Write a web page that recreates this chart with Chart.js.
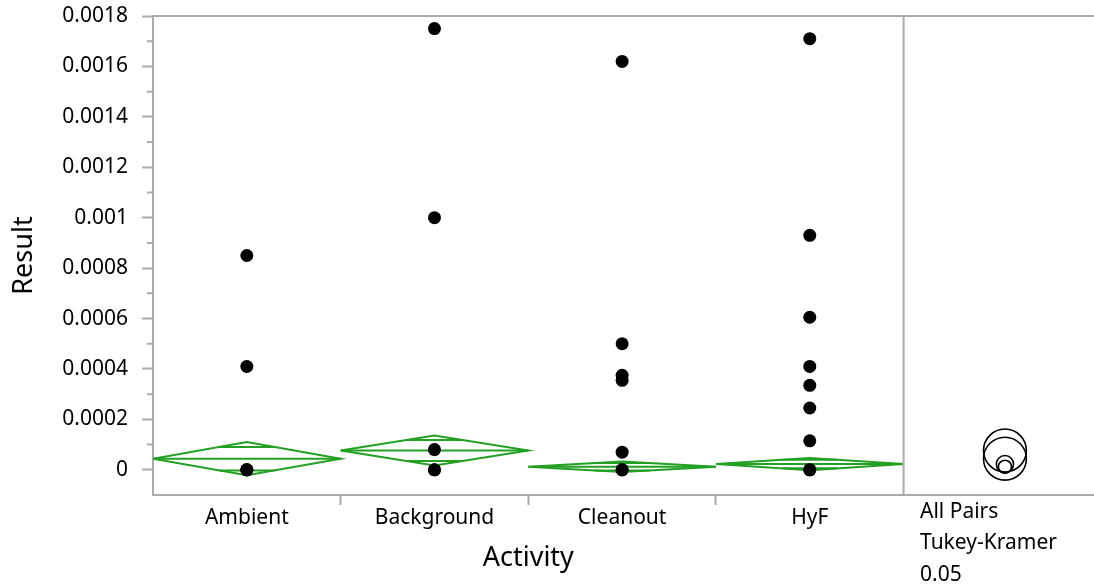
<!DOCTYPE html>
<html>
<head>
<meta charset="utf-8">
<script src="https://cdn.jsdelivr.net/npm/chart.js@4.4.0/dist/chart.umd.min.js"></script>
<style>
html, body { margin: 0; padding: 0; background: #fff; }
#wrap { width: 1094px; height: 587px; }
</style>
</head>
<body>
<div id="wrap"><canvas id="oneway" width="1094" height="587"></canvas></div>
<script>
// groups on the x axis
const activities = ['Ambient', 'Background', 'Cleanout', 'HyF'];

const ambientVals    = [0.00085, 0.00041, 0, 0, 0];
const backgroundVals = [0.00175, 0.001, 0.00008, 0, 0];
const cleanoutVals   = [0.00162, 0.0005, 0.000375, 0.000355, 0.00007, 0, 0];
const hyfVals        = [0.00171, 0.00093, 0.000605, 0.00041, 0.000335, 0.000245, 0.000115, 0, 0];

// means diamonds: group mean and 95% CI half width
const groupMeans = [0.000044, 0.0000765, 0.000012, 0.0000226];
const ciHalf     = [0.000066, 0.000059, 0.000021, 0.000024];

// comparison circle radii (Result units)
const circleRadius = [0.000085, 0.000085, 0.000026, 0.000034];

// y axis tick labels
const yTickValues = [0, 0.0002, 0.0004, 0.0006, 0.0008, 0.001, 0.0012, 0.0014, 0.0016, 0.0018];
const yTickLabels = ['0', '0.0002', '0.0004', '0.0006', '0.0008', '0.001', '0.0012', '0.0014', '0.0016', '0.0018'];

const compareLabels = ['All Pairs', 'Tukey-Kramer', '0.05'];

const GRAY = '#ababab';
const GREEN = '#23a023';
const FONT = "'Noto Sans', sans-serif";
const circleX = 4.54;

const allVals = [ambientVals, backgroundVals, cleanoutVals, hyfVals];

// major + minor y ticks
let yTickList = [];
yTickValues.forEach((v, i) => {
    yTickList.push(v);
    if (i < yTickValues.length - 1) yTickList.push((v + yTickValues[i + 1]) / 2);
});

let datasets = [];

// data points on top
datasets.push({
    label: 'points',
    order: 0,
    data: allVals.flatMap((vals, i) => vals.map(v => ({x: i + 0.5, y: v}))),
    pointRadius: 6.5,
    pointBackgroundColor: '#000',
    pointBorderWidth: 0,
    showLine: false
});

// comparison circles
datasets.push({
    label: 'circles',
    order: 1,
    data: groupMeans.map(m => ({x: circleX, y: m})),
    pointRadius: ctx => {
        let ys = ctx.chart.scales.y;
        return Math.abs(ys.getPixelForValue(0) - ys.getPixelForValue(circleRadius[ctx.dataIndex]));
    },
    pointBackgroundColor: 'rgba(0,0,0,0)',
    pointBorderColor: '#000',
    pointBorderWidth: 1.6,
    showLine: false
});

// means diamonds, mean lines, overlap marks
const k = 1 / Math.SQRT2;
groupMeans.forEach((m, i) => {
    let h = ciHalf[i];
    let line = pts => ({
        order: 2,
        data: pts,
        showLine: true,
        borderColor: GREEN,
        borderWidth: 2,
        pointRadius: 0,
        fill: false
    });
    datasets.push(line([
        {x: i, y: m}, {x: i + 0.5, y: m + h}, {x: i + 1, y: m}, {x: i + 0.5, y: m - h}, {x: i, y: m}
    ]));
    datasets.push(line([{x: i, y: m}, {x: i + 1, y: m}]));
    let dx = 0.5 * (1 - k);
    datasets.push(line([{x: i + 0.5 - dx, y: m + h * k}, {x: i + 0.5 + dx, y: m + h * k}]));
    datasets.push(line([{x: i + 0.5 - dx, y: m - h * k}, {x: i + 0.5 + dx, y: m - h * k}]));
});

// frame, minor ticks, titles and side text
const decor = {
    id: 'decor',
    afterDraw(chart) {
        let c = chart.ctx, a = chart.chartArea;
        let xs = chart.scales.x, ys = chart.scales.y;
        c.save();
        c.strokeStyle = GRAY;
        c.lineWidth = 2;
        c.beginPath();
        c.moveTo(a.left, a.top);
        c.lineTo(chart.width, a.top);
        c.moveTo(a.right, a.bottom);
        c.lineTo(chart.width, a.bottom);
        let sx = xs.getPixelForValue(activities.length);
        c.moveTo(sx, a.top);
        c.lineTo(sx, a.bottom);
        // minor y ticks
        yTickList.forEach((v, i) => {
            if (i % 2 === 1) {
                let py = ys.getPixelForValue(v);
                c.moveTo(a.left - 6, py);
                c.lineTo(a.left, py);
            }
        });
        c.stroke();

        c.fillStyle = '#000';
        c.textAlign = 'center';
        c.textBaseline = 'middle';
        c.font = '27px ' + FONT;
        c.fillText('Activity', (a.left + sx) / 2, 558);
        c.save();
        c.translate(24, (a.top + a.bottom) / 2);
        c.rotate(-Math.PI / 2);
        c.fillText('Result', 0, 0);
        c.restore();

        c.textAlign = 'left';
        c.font = '21px ' + FONT;
        compareLabels.forEach((t, i) => {
            c.fillText(t, 920, 512 + i * 31.5);
        });
        c.restore();
    }
};

const xTickVals = [0.5, 1, 1.5, 2, 2.5, 3, 3.5];

new Chart(document.getElementById('oneway'), {
    type: 'scatter',
    data: {datasets: datasets},
    options: {
        responsive: false,
        animation: false,
        layout: {padding: {left: 0, top: 16, right: 4, bottom: 0}},
        plugins: {legend: {display: false}, tooltip: {enabled: false}},
        scales: {
            x: {
                type: 'linear',
                min: 0,
                max: 4.98,
                afterBuildTicks: s => { s.ticks = xTickVals.map(v => ({value: v})); },
                afterFit: s => { s.height = 92; s.paddingLeft = 0; s.paddingRight = 0; },
                ticks: {
                    autoSkip: false,
                    maxRotation: 0,
                    padding: 0,
                    color: '#000',
                    font: {family: FONT, size: 21},
                    callback: (v, i) => i % 2 === 0 ? activities[i / 2] : ''
                },
                grid: {
                    drawOnChartArea: false,
                    tickLength: 10,
                    tickWidth: 2,
                    tickColor: ctx => (ctx.index % 2 === 1 ? GRAY : 'rgba(0,0,0,0)')
                },
                border: {color: GRAY, width: 2}
            },
            y: {
                min: -0.0001,
                max: 0.0018,
                afterBuildTicks: s => { s.ticks = yTickList.map(v => ({value: v})); },
                afterFit: s => { s.width = 153; s.paddingTop = 0; s.paddingBottom = 0; },
                ticks: {
                    autoSkip: false,
                    padding: 14,
                    color: '#000',
                    font: {family: FONT, size: 21},
                    callback: (v, i) => i % 2 === 0 ? yTickLabels[i / 2] : ''
                },
                grid: {
                    drawOnChartArea: false,
                    tickLength: 11,
                    tickWidth: 2,
                    tickColor: ctx => (ctx.index % 2 === 0 ? GRAY : 'rgba(0,0,0,0)')
                },
                border: {color: GRAY, width: 2}
            }
        }
    },
    plugins: [decor]
});
</script>
</body>
</html>
